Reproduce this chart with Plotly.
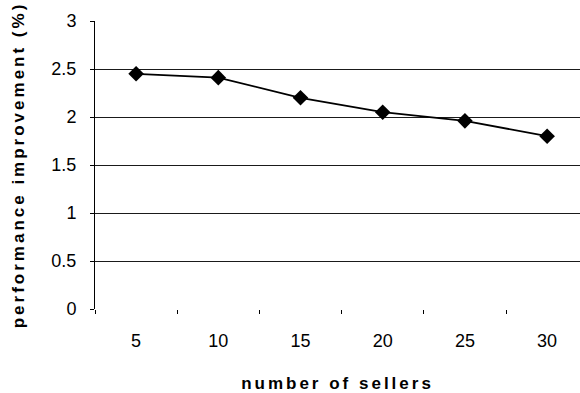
import plotly.graph_objects as go

# Number of sellers in the market and the measured performance gain
sellers = ["5", "10", "15", "20", "25", "30"]
improvement = [2.45, 2.41, 2.20, 2.05, 1.96, 1.80]
y_ticks = [0, 0.5, 1, 1.5, 2, 2.5, 3]
y_tick_text = ["0", "0.5", "1", "1.5", "2", "2.5", "3"]

FONT = "Liberation Sans, Arial, sans-serif"

fig = go.Figure(
    go.Scatter(
        x=sellers,
        y=improvement,
        mode="lines+markers",
        line=dict(color="black", width=1.8),
        marker=dict(symbol="diamond", size=12, color="black"),
        showlegend=False,
    )
)

fig.update_layout(
    width=580,
    height=393,
    margin=dict(l=95, r=0, t=21, b=84),
    paper_bgcolor="white",
    plot_bgcolor="white",
    font=dict(family=FONT, size=18, color="black"),
)

fig.update_xaxes(
    type="category",
    range=[-0.5, 5.4],
    tickson="boundaries",
    ticks="outside",
    ticklen=4,
    tickcolor="black",
    ticklabelstandoff=19,
    tickfont=dict(size=18),
    showgrid=False,
    showline=False,
    zeroline=False,
    title=dict(
        text='<span style="letter-spacing:3px"><b>number of sellers</b></span>',
        font=dict(size=17),
        standoff=30,
    ),
)

fig.update_yaxes(
    range=[0, 3],
    tickvals=y_ticks,
    ticktext=y_tick_text,
    ticks="outside",
    ticklen=4,
    tickcolor="black",
    ticklabelstandoff=10,
    tickfont=dict(size=18),
    showgrid=True,
    gridcolor="#1a1a1a",
    gridwidth=1,
    showline=True,
    linecolor="black",
    linewidth=1,
    zeroline=False,
    title=dict(
        text='<span style="letter-spacing:3px"><b>performance improvement (%)</b></span>',
        font=dict(size=17),
        standoff=22,
    ),
)

fig.write_html("out.html")
